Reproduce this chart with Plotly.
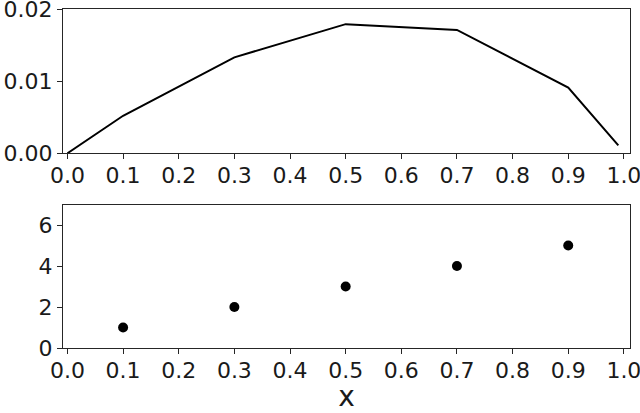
import plotly.graph_objects as go
from plotly.subplots import make_subplots

# top panel: line
line_x = [0.0, 0.1, 0.3, 0.5, 0.7, 0.9, 0.99]
line_y = [0.0, 0.0052, 0.0133, 0.0179, 0.0171, 0.0091, 0.0011]

# bottom panel: points
pts_x = [0.1, 0.3, 0.5, 0.7, 0.9]
pts_y = [1, 2, 3, 4, 5]

x_ticks = [0.0, 0.1, 0.2, 0.3, 0.4, 0.5, 0.6, 0.7, 0.8, 0.9, 1.0]
top_ticks = [0.0, 0.01, 0.02]
bottom_ticks = [0, 2, 4, 6]

fig = make_subplots(rows=2, cols=1)

fig.add_trace(
    go.Scatter(x=line_x, y=line_y, mode="lines",
               line=dict(color="black", width=2), showlegend=False),
    row=1, col=1,
)
fig.add_trace(
    go.Scatter(x=pts_x, y=pts_y, mode="markers",
               marker=dict(color="black", size=10), showlegend=False),
    row=2, col=1,
)

axis_style = dict(
    showgrid=False, zeroline=False, showline=True, mirror=True,
    linecolor="#262626", linewidth=1.3, ticks="outside", ticklen=5,
    tickcolor="#262626", tickwidth=1.2, automargin=False,
    ticklabeloverflow="allow",
    tickfont=dict(family="DejaVu Sans", size=22, color="#1a1a1a"),
)

fig.update_xaxes(axis_style)
fig.update_yaxes(axis_style)

fig.update_xaxes(range=[-0.008, 1.011], tickvals=x_ticks, tickformat=".1f",
                 ticklabelstandoff=-3)
fig.update_xaxes(title=dict(text="x", font=dict(family="DejaVu Sans", size=28, color="#1a1a1a"),
                            standoff=10), row=2, col=1)
fig.update_yaxes(range=[0, 0.02], tickvals=top_ticks, tickformat=".2f", row=1, col=1)
fig.update_yaxes(range=[0, 7], tickvals=bottom_ticks, row=2, col=1)

fig.update_layout(
    width=640, height=413,
    margin=dict(l=63, r=10, t=9, b=65),
    plot_bgcolor="white", paper_bgcolor="white",
    xaxis=dict(domain=[0, 1]),
    yaxis=dict(domain=[0.5745, 1.0]),
    yaxis2=dict(domain=[0.0, 0.423]),
)

# drop the browser's default body margin so the figure sits at the corner
fig.write_html("out.html", config={"displayModeBar": False},
               post_script="document.body.style.margin='0';")
